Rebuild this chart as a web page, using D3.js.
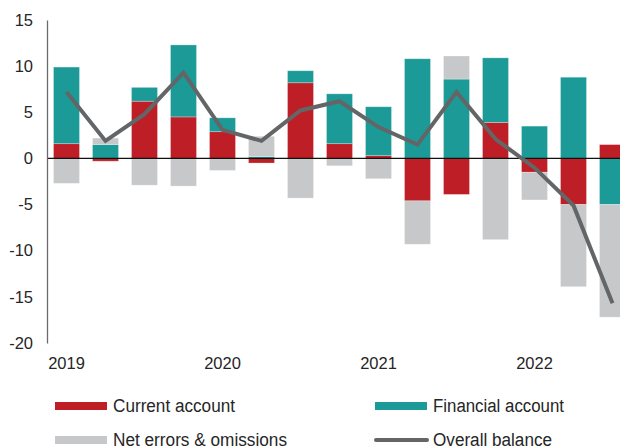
<!DOCTYPE html>
<html>
<head>
<meta charset="utf-8">
<script src="https://cdn.jsdelivr.net/npm/d3@7"></script>
<style>
  html, body { margin: 0; padding: 0; background: #fff; }
  svg { display: block; }
  text { font-family: "Liberation Sans", Arial, sans-serif; fill: #262626; }
</style>
</head>
<body>
<svg id="chart" width="620" height="448"></svg>
<script>
// Quarterly balance of payments components (% of GDP), 2019 Q1 – 2022 Q3
const quarters = ["2019Q1","2019Q2","2019Q3","2019Q4","2020Q1","2020Q2","2020Q3","2020Q4",
                  "2021Q1","2021Q2","2021Q3","2021Q4","2022Q1","2022Q2","2022Q3"];
const currentAccount   = [1.6, -0.3, 6.2, 4.5, 2.9, -0.5, 8.2, 1.6, 0.3, -4.6, -3.9, 3.9, -1.5, -5.0, 1.5];
const financialAccount = [8.3, 1.5, 1.5, 7.8, 1.5, 0.2, 1.3, 5.4, 5.3, 10.8, 8.6, 7.0, 3.5, 8.8, -5.0];
const netErrors        = [-2.7, 0.7, -2.9, -3.0, -1.3, 2.2, -4.3, -0.8, -2.2, -4.7, 2.5, -8.8, -3.0, -8.9, -12.2];
const overallBalance   = [7.2, 1.9, 4.8, 9.3, 3.1, 1.9, 5.2, 6.2, 3.4, 1.5, 7.2, 2.1, -1.0, -5.1, -15.7];
const yearLabels = ["2019", "2020", "2021", "2022"];
const yTicks = [15, 10, 5, 0, -5, -10, -15, -20];

const seriesKeys = ["current", "financial", "errors"];
const seriesNames = {current: "Current account", financial: "Financial account",
                     errors: "Net errors & omissions", balance: "Overall balance"};
const colors = {current: "#BE1E25", financial: "#1C9A97", errors: "#C7C8CA", balance: "#646567"};

const rows = quarters.map((q, i) => ({
  q, current: currentAccount[i], financial: financialAccount[i], errors: netErrors[i], balance: overallBalance[i]
}));

const svg = d3.select("#chart");
const plotLeft = 47, plotTop = 20, plotBottom = 343;

const x = d3.scaleBand().domain(quarters).range([plotLeft, plotLeft + 39 * quarters.length])
  .paddingInner(1 / 3).paddingOuter(1 / 6);
const y = d3.scaleLinear().domain([-20, 15]).range([plotBottom, plotTop]);

const stacked = d3.stack().keys(seriesKeys).offset(d3.stackOffsetDiverging)(rows);

// stacked bars
svg.append("g").selectAll("g").data(stacked).join("g")
  .attr("fill", d => colors[d.key])
  .selectAll("rect").data(d => d).join("rect")
  .attr("x", d => x(d.data.q))
  .attr("width", x.bandwidth())
  .attr("y", d => y(Math.max(d[0], d[1])))
  .attr("height", d => Math.abs(y(d[0]) - y(d[1])))
  .attr("stroke", "#fff").attr("stroke-opacity", 0.35).attr("stroke-width", 0.8);

// zero line
svg.append("line")
  .attr("x1", plotLeft).attr("x2", 620)
  .attr("y1", y(0)).attr("y2", y(0))
  .attr("stroke", "#111").attr("stroke-width", 1.2);

// y axis (plain hyphen for negatives)
const yAxis = d3.axisLeft(y).tickValues(yTicks).tickSize(0).tickPadding(14).tickFormat(d => String(d));
const gy = svg.append("g").attr("transform", `translate(${plotLeft},0)`).call(yAxis);
gy.select(".domain").attr("stroke", "#6b6b6b").attr("stroke-width", 1.3);
gy.selectAll("text").attr("font-size", "16.5px").attr("fill", "#262626")
  .attr("font-family", "Liberation Sans, Arial, sans-serif");

// x axis year labels
const gx = svg.append("g").attr("transform", `translate(0,${plotBottom})`)
  .call(d3.axisBottom(x).tickValues(yearLabels.map(yr => yr + "Q1"))
    .tickFormat(q => q.slice(0, 4)).tickSize(0).tickPadding(14));
gx.select(".domain").remove();
gx.selectAll("text").attr("font-size", "16.5px").attr("fill", "#262626")
  .attr("font-family", "Liberation Sans, Arial, sans-serif");

// overall balance line
const line = d3.line().x(d => x(d.q) + x.bandwidth() / 2).y(d => y(d.balance));
svg.append("path").datum(rows)
  .attr("d", line)
  .attr("fill", "none")
  .attr("stroke", colors.balance)
  .attr("stroke-width", 4)
  .attr("stroke-linejoin", "miter");

// legend
const legendItems = [
  {key: "current",   x: 55,  y: 406, w: 122},
  {key: "financial", x: 375, y: 406, w: 131},
  {key: "errors",    x: 55,  y: 440, w: 174},
  {key: "balance",   x: 375, y: 440, w: 119}
];
const lg = svg.append("g").selectAll("g").data(legendItems).join("g")
  .attr("transform", d => `translate(${d.x},${d.y})`);
lg.filter(d => d.key !== "balance").append("rect")
  .attr("x", 0).attr("y", -4).attr("width", 52).attr("height", 8)
  .attr("fill", d => colors[d.key]);
lg.filter(d => d.key === "balance").append("line")
  .attr("x1", 1).attr("x2", 52).attr("y1", 0).attr("y2", 0)
  .attr("stroke", colors.balance).attr("stroke-width", 4).attr("stroke-linecap", "round");
lg.append("text")
  .attr("x", 58).attr("y", 0).attr("dy", "0.36em")
  .attr("font-size", "18px")
  .attr("textLength", d => d.w).attr("lengthAdjust", "spacingAndGlyphs")
  .text(d => seriesNames[d.key]);
</script>
</body>
</html>
